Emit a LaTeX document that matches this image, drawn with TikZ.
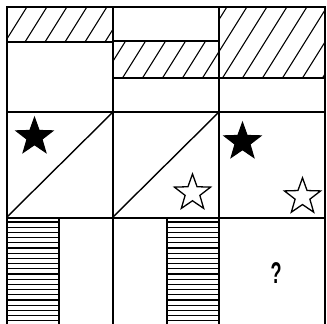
\documentclass[tikz,border=0pt]{standalone}
\usepackage{fontspec}
\setmainfont{Liberation Sans}
\usetikzlibrary{shapes.geometric}
\begin{document}
\begin{tikzpicture}[x=1pt,y=-1pt,
  gridline/.style={line width=1.4pt, line cap=rect},
  hatch/.style={line width=1.1pt},
  stripe/.style={line width=1.2pt},
  starshape/.style={star, star points=5, star point ratio=2.45, minimum size=38pt, inner sep=0pt, line width=1.3pt, draw=black},
  fullstar/.style={starshape, fill=black},
  emptystar/.style={starshape, fill=white},
]
\useasboundingbox (0,0) rectangle (327,324);
% diagonal hatching
\foreach \r in {{(7,7) rectangle (113,42)},{(113,41) rectangle (219,78)},{(219,7) rectangle (325,78)}}{
  \begin{scope}
    \clip \r;
    \foreach \i in {-6,...,20} \draw[hatch] (\i*20-57.5,142) -- (\i*20+55,-38);
  \end{scope}
}
% horizontal stripes
\foreach \k in {0,...,20} {
  \draw[stripe] (7,222+\k*5.2) -- (59,222+\k*5.2);
  \draw[stripe] (167,222+\k*5.2) -- (219,222+\k*5.2);
}
% grid
\draw[gridline] (7,324) -- (7,7) -- (325,7) -- (325,324);
\draw[gridline] (113,7) -- (113,324);
\draw[gridline] (219,7) -- (219,324);
\draw[gridline] (7,42) -- (113,42);
\draw[gridline] (113,41) -- (219,41);
\draw[gridline] (113,78) -- (325,78);
\draw[gridline] (7,112) -- (325,112);
\draw[gridline] (7,218) -- (325,218);
\draw[gridline] (7,217) -- (113,112);
\draw[gridline] (113,217) -- (219,112);
\draw[gridline] (59,218) -- (59,324);
\draw[gridline] (167,218) -- (167,324);
% stars
\node[fullstar] (s1) at (34.5,136.8) {};
\node[emptystar] (s2) at (192.5,193) {};
\node[fullstar] (s3) at (242.5,141.8) {};
\node[emptystar] (s4) at (302.5,196.8) {};
% question mark
\node[inner sep=0pt] (q) at (276,273) {\fontsize{30pt}{30pt}\selectfont\bfseries\scalebox{0.6}[1]{?}};
\end{tikzpicture}
\end{document}
